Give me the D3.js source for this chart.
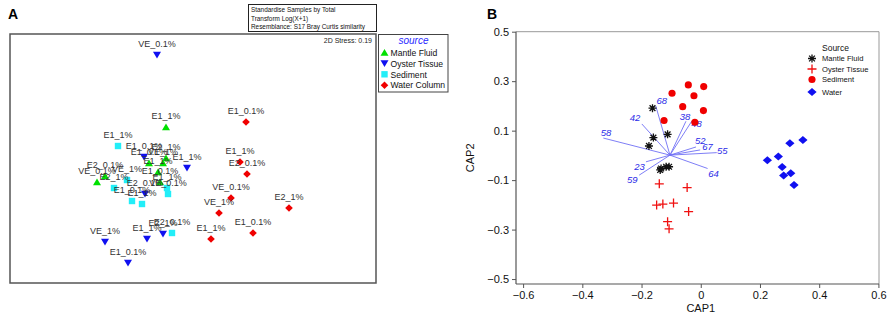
<!DOCTYPE html>
<html><head><meta charset="utf-8">
<script src="https://cdn.jsdelivr.net/npm/d3@7"></script>
<style>body{margin:0;background:#fff}svg{display:block;font-family:"Liberation Sans",Arial,sans-serif}</style>
</head><body>
<svg id="c" width="892" height="316"></svg>
<script>
// ---------- Panel A: nMDS ----------
const nmdsGroups = ["Mantle Fluid","Oyster Tissue","Sediment","Water Column"];
const nmdsHeader = ["Standardise Samples by Total","Transform Log(X+1)","Resemblance: S17 Bray Curtis similarity"];
const nmdsStress = "2D Stress: 0.19";
const mantleX = [-0.27,-0.96,-0.88,-0.44,-0.30,-0.27,-0.35,-0.33];
const mantleY = [0.315,-0.235,-0.175,-0.045,-0.045,0.005,-0.135,-0.235];
const mantleLab = ["E1_1%","VE_0.1%","E2_0.1%","E1_0.1%","VE_1%","E2_1%","E1_1%","E1_0.1%"];
const oysterX = [-0.36,-0.49,-0.06,-0.48,-0.88,-0.46,-0.30,-0.65];
const oysterY = [1.035,0.015,-0.095,-0.355,-0.835,-0.805,-0.755,-1.045];
const oysterLab = ["VE_0.1%","E1_0.1%","E1_1%","E2_0.1%","VE_1%","E1_1%","E2_1%","E1_0.1%"];
const sedimentX = [-0.75,-0.66,-0.79,-0.61,-0.51,-0.26,-0.25,-0.21];
const sedimentY = [0.125,-0.215,-0.295,-0.425,-0.455,-0.295,-0.355,-0.745];
const sedimentLab = ["E1_1%","VE_1%","E2_1%","E1_0.1%","E1_1%","E1_1%","VE_0.1%","E2_0.1%"];
const waterX = [0.53,0.47,0.54,0.38,0.26,0.96,0.18,0.60];
const waterY = [0.365,-0.035,-0.155,-0.395,-0.545,-0.495,-0.805,-0.745];
const waterLab = ["E1_0.1%","E1_1%","E2_0.1%","VE_0.1%","VE_1%","E2_1%","E1_1%","E1_0.1%"];

// ---------- Panel B: CAP ----------
const capGroups = ["Mantle Fluid","Oyster Tissue","Sediment","Water"];
const capXTicks = [-0.6,-0.4,-0.2,0,0.2,0.4,0.6];
const capYTicks = [-0.5,-0.3,-0.1,0.1,0.3,0.5];
const capMantleX = [-0.163,-0.112,-0.160,-0.175,-0.137,-0.134,-0.117,-0.107];
const capMantleY = [0.191,0.085,0.072,0.038,-0.059,-0.053,-0.046,-0.046];
const capOysterX = [-0.140,-0.046,-0.149,-0.128,-0.092,-0.041,-0.112,-0.107];
const capOysterY = [-0.115,-0.130,-0.201,-0.197,-0.193,-0.227,-0.268,-0.297];
const capSedX = [-0.042,0.010,-0.097,-0.023,-0.061,0.009,-0.124,-0.020];
const capSedY = [0.285,0.278,0.251,0.241,0.197,0.181,0.141,0.134];
const capWaterX = [0.225,0.262,0.345,0.301,0.275,0.280,0.304,0.315];
const capWaterY = [-0.020,-0.005,0.062,0.049,-0.047,-0.081,-0.072,-0.120];
const vecOrigin = [-0.104, 0.001];
const vecNames = ["58","42","68","38","48","52","67","55","64","23","59"];
const vecEndX = [-0.329,-0.199,-0.152,-0.050,-0.030,-0.016,-0.002,0.054,0.023,-0.185,-0.208];
const vecEndY = [0.070,0.127,0.200,0.138,0.139,0.034,0.022,0.011,-0.053,-0.026,-0.080];
const vecLabX = [-0.320,-0.222,-0.132,-0.053,-0.014,-0.002,0.023,0.073,0.043,-0.207,-0.231];
const vecLabY = [0.093,0.154,0.222,0.157,0.127,0.059,0.035,0.018,-0.073,-0.046,-0.100];

const svg = d3.select("#c");

// ===== Panel A =====
const A = svg.append("g");
A.append("text").attr("x",8).attr("y",19).attr("font-size",14).attr("font-weight","bold").text("A");
A.append("rect").attr("x",248.5).attr("y",4.5).attr("width",128).attr("height",27).attr("fill","#fff").attr("stroke","#222").attr("stroke-width",1);
nmdsHeader.forEach((t,i)=>A.append("text").attr("x",251).attr("y",12+i*8.6).attr("font-size",6.4).attr("fill","#111").text(t));
A.append("rect").attr("x",10).attr("y",34).attr("width",366).attr("height",249).attr("fill","none").attr("stroke","#555").attr("stroke-width",1.5);
A.append("text").attr("x",372).attr("y",43).attr("text-anchor","end").attr("font-size",7).attr("fill","#222").text(nmdsStress);

const xA = d3.scaleLinear().domain([-1.83,1.83]).range([10,376]);
const yA = d3.scaleLinear().domain([-1.245,1.245]).range([283,34]);
const shapesA = {
  "Mantle Fluid": {color:"#00e000", path:"M0,-3.6L4,3.2L-4,3.2Z"},
  "Oyster Tissue": {color:"#1010f0", path:"M0,3.6L4,-3.2L-4,-3.2Z"},
  "Sediment": {color:"#22eef8", path:"M-3.2,-3.2H3.2V3.2H-3.2Z"},
  "Water Column": {color:"#f00000", path:"M0,-3.8L3.8,0L0,3.8L-3.8,0Z"}
};
const nmdsData = [
  [nmdsGroups[0], mantleX, mantleY, mantleLab],
  [nmdsGroups[1], oysterX, oysterY, oysterLab],
  [nmdsGroups[2], sedimentX, sedimentY, sedimentLab],
  [nmdsGroups[3], waterX, waterY, waterLab]
];
const ptsA = [];
nmdsData.forEach(([g,xs,ys,ls])=>xs.forEach((x,i)=>ptsA.push({g,x,y:ys[i],l:ls[i]})));
A.selectAll("path.pa").data(ptsA).join("path").attr("class","pa")
  .attr("transform",d=>`translate(${xA(d.x)},${yA(d.y)})`)
  .attr("d",d=>shapesA[d.g].path).attr("fill",d=>shapesA[d.g].color);
A.selectAll("text.la").data(ptsA).join("text").attr("class","la")
  .attr("x",d=>xA(d.x)).attr("y",d=>yA(d.y)-8).attr("text-anchor","middle")
  .attr("font-size",9).attr("fill","#333").text(d=>d.l);
// legend A
A.append("rect").attr("x",378.5).attr("y",34.5).attr("width",69.5).attr("height",57.5).attr("fill","#fff").attr("stroke","#444").attr("stroke-width",1);
A.append("text").attr("x",413.5).attr("y",44).attr("text-anchor","middle").attr("font-size",10).attr("font-style","italic").attr("fill","#2a2aff").text("source");
nmdsGroups.forEach((g,i)=>{
  const cy = 52.5 + i*10.9;
  A.append("path").attr("transform",`translate(384.5,${cy})`).attr("d",shapesA[g].path).attr("fill",shapesA[g].color);
  A.append("text").attr("x",390.5).attr("y",cy+3.2).attr("font-size",8.6).attr("fill","#111").text(g);
});

// ===== Panel B =====
const B = svg.append("g");
B.append("text").attr("x",487).attr("y",19).attr("font-size",14).attr("font-weight","bold").text("B");
const xB = d3.scaleLinear().domain([-0.624,0.602]).range([516,879]);
const yB = d3.scaleLinear().domain([-0.52,0.5]).range([284,31.7]);
B.append("line").attr("x1",516).attr("x2",879).attr("y1",31.7).attr("y2",31.7).attr("stroke","#999");
B.append("line").attr("x1",879).attr("x2",879).attr("y1",31.7).attr("y2",284).attr("stroke","#999");
const axX = B.append("g").attr("transform","translate(0,284)")
  .call(d3.axisBottom(xB).tickValues(capXTicks).tickSize(4).tickPadding(3).tickFormat(d=>d===0?"0":d3.format(".1f")(d)));
const axY = B.append("g").attr("transform","translate(516,0)")
  .call(d3.axisLeft(yB).tickValues(capYTicks).tickSize(4).tickPadding(3).tickFormat(d3.format(".1f")));
[axX,axY].forEach(a=>{
  a.select(".domain").attr("stroke","#555").attr("stroke-width",1.2);
  a.selectAll(".tick line").attr("stroke","#555");
  a.selectAll("text").attr("font-size",11).attr("fill","#111").attr("font-family","Liberation Sans, Arial, sans-serif");
});
axX.select(".domain").attr("d","M516,0H879");
axY.select(".domain").attr("d","M0,31.7V284");
B.append("text").attr("x",xB(0)).attr("y",312).attr("text-anchor","middle").attr("font-size",11).attr("fill","#111").text("CAP1");
B.append("text").attr("transform",`translate(474,${yB(-0.01)}) rotate(-90)`).attr("text-anchor","middle").attr("font-size",11).attr("fill","#111").text("CAP2");

const vecs = vecNames.map((n,i)=>({n,x:vecEndX[i],y:vecEndY[i],lx:vecLabX[i],ly:vecLabY[i]}));
B.selectAll("line.v").data(vecs).join("line").attr("class","v")
  .attr("x1",xB(vecOrigin[0])).attr("y1",yB(vecOrigin[1]))
  .attr("x2",d=>xB(d.x)).attr("y2",d=>yB(d.y)).attr("stroke","#6f6ff5").attr("stroke-width",0.9);
B.selectAll("text.v").data(vecs).join("text").attr("class","v")
  .attr("x",d=>xB(d.lx)).attr("y",d=>yB(d.ly)).attr("dy","0.35em").attr("text-anchor","middle")
  .attr("font-size",9.5).attr("font-style","italic").attr("fill","#2a2ae8").text(d=>d.n);

const shapesB = {
  "Mantle Fluid": {color:"#111", stroke:true, path:"M-4,0H4M0,-4V4M-2.9,-2.9L2.9,2.9M-2.9,2.9L2.9,-2.9"},
  "Oyster Tissue": {color:"#f01010", stroke:true, path:"M-4.5,0H4.5M0,-4.5V4.5"},
  "Sediment": {color:"#f00000", stroke:false, path:d3.symbol(d3.symbolCircle,40)()},
  "Water": {color:"#1010f0", stroke:false, path:"M0,-4L4.6,0L0,4L-4.6,0Z"}
};
const capData = [
  [capGroups[0], capMantleX, capMantleY],
  [capGroups[1], capOysterX, capOysterY],
  [capGroups[2], capSedX, capSedY],
  [capGroups[3], capWaterX, capWaterY]
];
const ptsB = [];
capData.forEach(([g,xs,ys])=>xs.forEach((x,i)=>ptsB.push({g,x,y:ys[i]})));
function drawSym(sel){
  sel.attr("d",d=>shapesB[d.g].path)
    .attr("fill",d=>shapesB[d.g].stroke?"none":shapesB[d.g].color)
    .attr("stroke",d=>shapesB[d.g].stroke?shapesB[d.g].color:"none")
    .attr("stroke-width",1.3);
}
B.selectAll("path.pb").data(ptsB).join("path").attr("class","pb")
  .attr("transform",d=>`translate(${xB(d.x)},${yB(d.y)})`).call(drawSym);
B.append("text").attr("x",822).attr("y",51).attr("font-size",8.5).attr("fill","#111").text("Source");
capGroups.forEach((g,i)=>{
  const cy = [58.5,69,79.5,92][i];
  B.append("path").datum({g}).attr("transform",`translate(812,${cy})`).call(drawSym);
  B.append("text").attr("x",822).attr("y",cy+2.8).attr("font-size",7.6).attr("fill","#111").text(g);
});
</script>
</body></html>
